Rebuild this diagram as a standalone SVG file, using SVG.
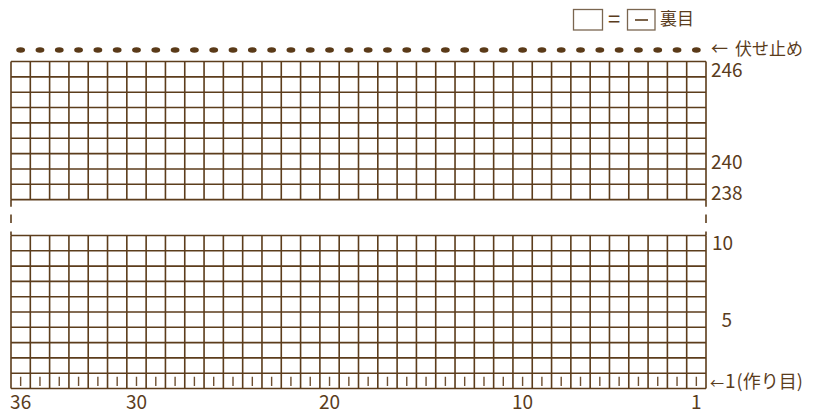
<svg xmlns="http://www.w3.org/2000/svg" xmlns:xlink="http://www.w3.org/1999/xlink" width="817" height="412" viewBox="0 0 817 412">
<style>
.grid{fill:none;stroke:#5c3d1c;stroke-width:1.6}
.tick{fill:none;stroke:#6e5032;stroke-width:1.4}
.lg{fill:#fff;stroke:#7a6650;stroke-width:1.3}
.t{font-family:"Noto Sans CJK JP","Noto Sans",sans-serif;fill:#5a3c1c}
.num{font-size:19px}
.jp{font-size:17px}
</style>
<defs>
<ellipse id="dot" cx="0" cy="50" rx="4.4" ry="2.7" fill="#5a3a18"/>
</defs>
<rect width="817" height="412" fill="#fff"/>
<g id="legend">
<rect class="lg" x="573.5" y="9.5" width="29" height="20.5"/>
<text class="t" x="608" y="27" font-size="22">=</text>
<rect class="lg" x="627.5" y="9.5" width="27.5" height="20.5"/>
<line x1="635" y1="20" x2="648" y2="20" stroke="#5a3c1c" stroke-width="1.6"/>
<text class="t jp" x="660" y="25">裏目</text>
</g>
<g id="bindoff">
<use href="#dot" x="20.65"/><use href="#dot" x="39.96"/><use href="#dot" x="59.26"/><use href="#dot" x="78.57"/><use href="#dot" x="97.88"/><use href="#dot" x="117.18"/><use href="#dot" x="136.49"/><use href="#dot" x="155.79"/><use href="#dot" x="175.10"/><use href="#dot" x="194.40"/><use href="#dot" x="213.71"/><use href="#dot" x="233.01"/><use href="#dot" x="252.32"/><use href="#dot" x="271.63"/><use href="#dot" x="290.93"/><use href="#dot" x="310.24"/><use href="#dot" x="329.54"/><use href="#dot" x="348.85"/><use href="#dot" x="368.15"/><use href="#dot" x="387.46"/><use href="#dot" x="406.76"/><use href="#dot" x="426.07"/><use href="#dot" x="445.38"/><use href="#dot" x="464.68"/><use href="#dot" x="483.99"/><use href="#dot" x="503.29"/><use href="#dot" x="522.60"/><use href="#dot" x="541.90"/><use href="#dot" x="561.21"/><use href="#dot" x="580.51"/><use href="#dot" x="599.82"/><use href="#dot" x="619.13"/><use href="#dot" x="638.43"/><use href="#dot" x="657.74"/><use href="#dot" x="677.04"/><use href="#dot" x="696.35"/>
<text class="t jp" x="711" y="54.5">←<tspan dx="7">伏せ止め</tspan></text>
</g>
<g id="chart-top">
<path class="grid" d="M11 61.5V199.65M30.31 61.5V199.65M49.61 61.5V199.65M68.92 61.5V199.65M88.22 61.5V199.65M107.53 61.5V199.65M126.83 61.5V199.65M146.14 61.5V199.65M165.44 61.5V199.65M184.75 61.5V199.65M204.06 61.5V199.65M223.36 61.5V199.65M242.67 61.5V199.65M261.97 61.5V199.65M281.28 61.5V199.65M300.58 61.5V199.65M319.89 61.5V199.65M339.19 61.5V199.65M358.5 61.5V199.65M377.81 61.5V199.65M397.11 61.5V199.65M416.42 61.5V199.65M435.72 61.5V199.65M455.03 61.5V199.65M474.33 61.5V199.65M493.64 61.5V199.65M512.94 61.5V199.65M532.25 61.5V199.65M551.56 61.5V199.65M570.86 61.5V199.65M590.17 61.5V199.65M609.47 61.5V199.65M628.78 61.5V199.65M648.08 61.5V199.65M667.39 61.5V199.65M686.69 61.5V199.65M706 61.5V199.65"/>
<path class="grid" d="M11 61.5H706M11 76.85H706M11 92.2H706M11 107.55H706M11 122.9H706M11 138.25H706M11 153.6H706M11 168.95H706M11 184.3H706M11 199.65H706"/>
</g>
<g id="break">
<path class="grid" d="M11 199.65V206.7M11 214.5V223M11 231.5V235.5M706 199.65V206.7M706 214.5V223M706 231.5V235.5"/>
</g>
<g id="chart-bottom">
<path class="grid" d="M11 235.5V388.5M30.31 235.5V388.5M49.61 235.5V388.5M68.92 235.5V388.5M88.22 235.5V388.5M107.53 235.5V388.5M126.83 235.5V388.5M146.14 235.5V388.5M165.44 235.5V388.5M184.75 235.5V388.5M204.06 235.5V388.5M223.36 235.5V388.5M242.67 235.5V388.5M261.97 235.5V388.5M281.28 235.5V388.5M300.58 235.5V388.5M319.89 235.5V388.5M339.19 235.5V388.5M358.5 235.5V388.5M377.81 235.5V388.5M397.11 235.5V388.5M416.42 235.5V388.5M435.72 235.5V388.5M455.03 235.5V388.5M474.33 235.5V388.5M493.64 235.5V388.5M512.94 235.5V388.5M532.25 235.5V388.5M551.56 235.5V388.5M570.86 235.5V388.5M590.17 235.5V388.5M609.47 235.5V388.5M628.78 235.5V388.5M648.08 235.5V388.5M667.39 235.5V388.5M686.69 235.5V388.5M706 235.5V388.5"/>
<path class="grid" d="M11 235.5H706M11 250.8H706M11 266.1H706M11 281.4H706M11 296.7H706M11 312H706M11 327.3H706M11 342.6H706M11 357.9H706M11 373.2H706M11 388.5H706"/>
<path class="tick" d="M20.65 376.8V386M39.96 376.8V386M59.26 376.8V386M78.57 376.8V386M97.88 376.8V386M117.18 376.8V386M136.49 376.8V386M155.79 376.8V386M175.1 376.8V386M194.4 376.8V386M213.71 376.8V386M233.01 376.8V386M252.32 376.8V386M271.63 376.8V386M290.93 376.8V386M310.24 376.8V386M329.54 376.8V386M348.85 376.8V386M368.15 376.8V386M387.46 376.8V386M406.76 376.8V386M426.07 376.8V386M445.38 376.8V386M464.68 376.8V386M483.99 376.8V386M503.29 376.8V386M522.6 376.8V386M541.9 376.8V386M561.21 376.8V386M580.51 376.8V386M599.82 376.8V386M619.13 376.8V386M638.43 376.8V386M657.74 376.8V386M677.04 376.8V386M696.35 376.8V386"/>
</g>
<g id="row-labels">
<text class="t num" x="711" y="77">246</text>
<text class="t num" x="711" y="168.5">240</text>
<text class="t num" x="711" y="199.8">238</text>
<text class="t num" x="712" y="249.5">10</text>
<text class="t num" x="721.5" y="327">5</text>
<text class="t" x="710" y="388" font-size="18"><tspan font-size="14">←</tspan><tspan font-size="19" dx="1">1</tspan><tspan dx="1">(作り目)</tspan></text>
</g>
<g id="col-labels">
<text class="t num" x="20.65" y="408.5" text-anchor="middle">36</text>
<text class="t num" x="136.49" y="408.5" text-anchor="middle">30</text>
<text class="t num" x="329.54" y="408.5" text-anchor="middle">20</text>
<text class="t num" x="522.6" y="408.5" text-anchor="middle">10</text>
<text class="t num" x="696.35" y="408.5" text-anchor="middle">1</text>
</g>
</svg>
